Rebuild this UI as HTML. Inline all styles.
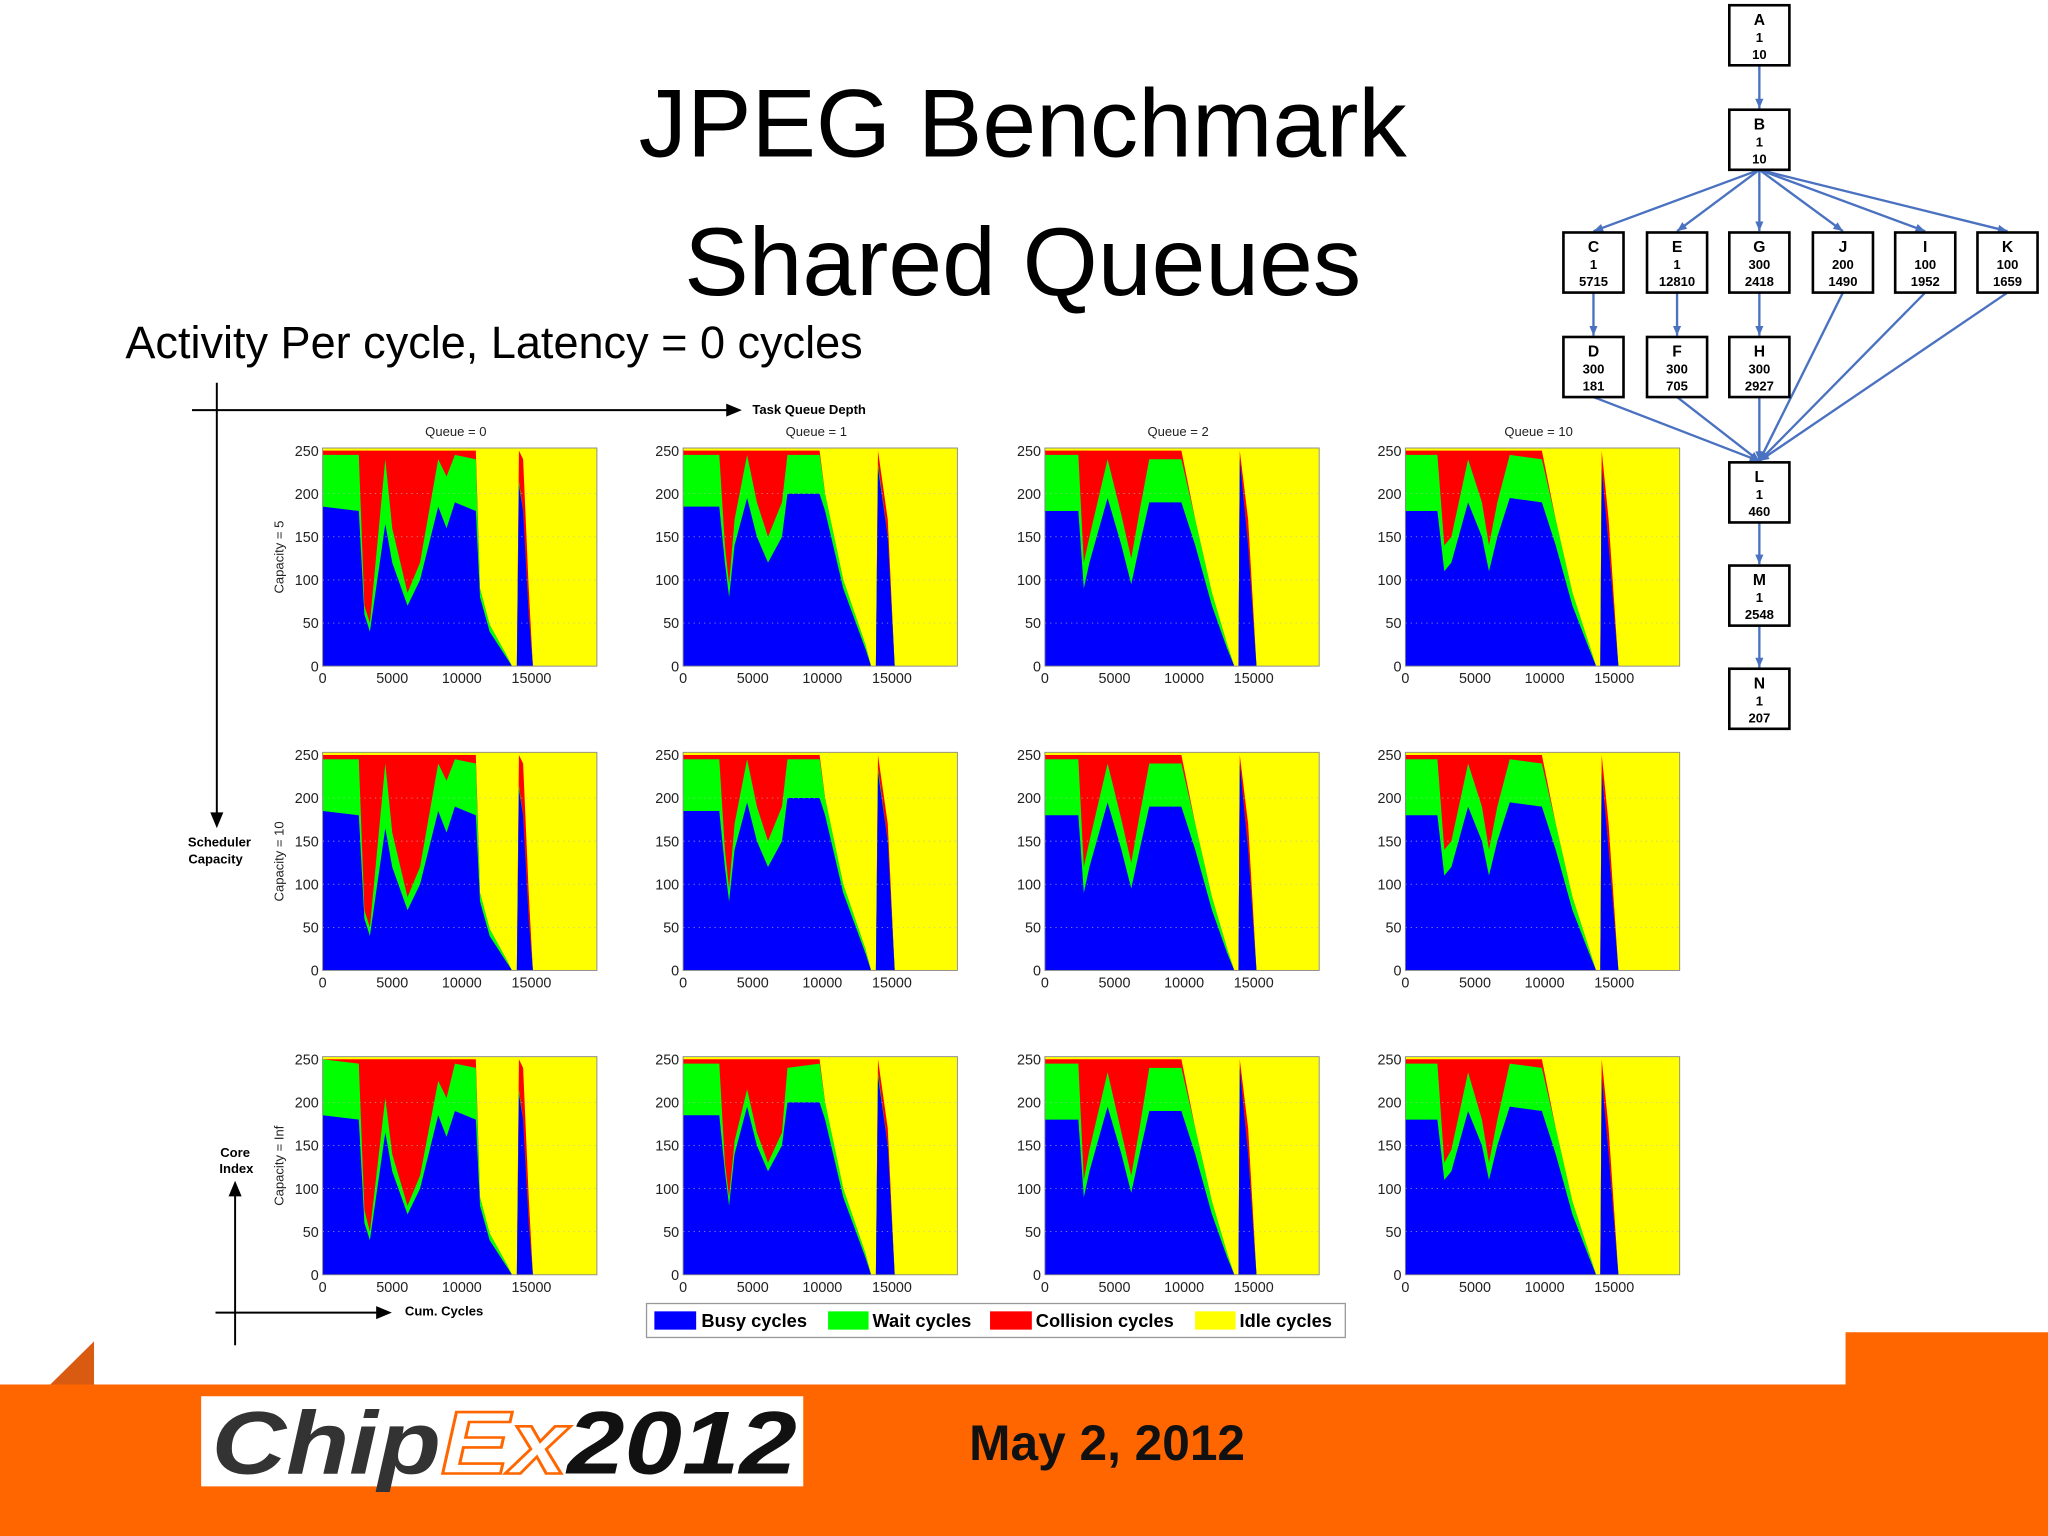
<!DOCTYPE html>
<html><head><meta charset="utf-8"><style>
html,body{margin:0;padding:0;background:#fff}
svg{display:block}
text{font-family:"Liberation Sans",sans-serif}
</style></head><body>
<svg id="root" xmlns="http://www.w3.org/2000/svg" width="2048" height="1536" viewBox="0 0 1568 1176">
<rect x="0" y="0" width="1568" height="1176" fill="#fff"/>
<rect x="0" y="1060" width="1568" height="116" fill="#FF6600"/>
<rect x="1413" y="1020" width="155" height="42" fill="#FF6600"/>
<polygon points="0,1098 72,1027 72,1062 0,1100" fill="#D95B12"/>
<polygon points="0,1100 72,1062 72,1060 0,1060" fill="#FF6600"/>
<rect x="154" y="1069" width="461" height="69" fill="#fff"/>
<text x="162" y="1128" font-size="68" font-weight="bold" font-style="italic" textLength="448" lengthAdjust="spacingAndGlyphs"><tspan fill="#333">Chip</tspan><tspan fill="#fff" stroke="#FF6600" stroke-width="2">Ex</tspan><tspan fill="#111">2012</tspan></text>
<text x="742" y="1118" font-size="38" font-weight="bold" fill="#111">May 2, 2012</text>
<text x="783" y="120" font-size="74" text-anchor="middle" fill="#000">JPEG Benchmark</text>
<text x="783" y="226" font-size="74" text-anchor="middle" fill="#000">Shared Queues</text>
<text x="96" y="274" font-size="34.5" fill="#000">Activity Per cycle, Latency = 0 cycles</text>
<g id="charts"></g>
<g id="dag"></g>
<g stroke="#000" stroke-width="1.5" fill="none">
<line x1="147" y1="314" x2="560" y2="314"/><line x1="166" y1="293" x2="166" y2="626"/>
<line x1="180" y1="1030" x2="180" y2="912"/><line x1="165" y1="1005" x2="292" y2="1005"/>
</g>
<polygon points="568,314 556,309 556,319" fill="#000"/>
<polygon points="166,634 161,622 171,622" fill="#000"/>
<polygon points="180,904 175,916 185,916" fill="#000"/>
<polygon points="300,1005 288,1000 288,1010" fill="#000"/>
<text x="576" y="317" font-size="10" font-weight="bold">Task Queue Depth</text>
<text x="168" y="648" font-size="10" font-weight="bold" text-anchor="middle">Scheduler</text>
<text x="165" y="661" font-size="10" font-weight="bold" text-anchor="middle">Capacity</text>
<text x="180" y="886" font-size="10" font-weight="bold" text-anchor="middle">Core</text>
<text x="181" y="898" font-size="10" font-weight="bold" text-anchor="middle">Index</text>
<text x="310" y="1007" font-size="10" font-weight="bold">Cum. Cycles</text>
<g>
<rect x="495" y="998" width="535" height="26" fill="#fff" stroke="#999" stroke-width="1"/>
<rect x="501" y="1004" width="32" height="14" fill="#0000FF"/>
<text x="537" y="1016" font-size="14" font-weight="bold">Busy cycles</text>
<rect x="634" y="1004" width="31" height="14" fill="#00FF00"/>
<text x="668" y="1016" font-size="14" font-weight="bold">Wait cycles</text>
<rect x="758" y="1004" width="32" height="14" fill="#FF0000"/>
<text x="793" y="1016" font-size="14" font-weight="bold">Collision cycles</text>
<rect x="915" y="1004" width="31" height="14" fill="#FFFF00"/>
<text x="949" y="1016" font-size="14" font-weight="bold">Idle cycles</text>
</g>
</svg>
<script>
var NS="http://www.w3.org/2000/svg";
var queueLabels=["Queue = 0","Queue = 1","Queue = 2","Queue = 10"];
var capacityLabels=["Capacity = 5","Capacity = 10","Capacity = Inf"];
var xTicks=[0,5000,10000,15000];
var yTicks=[0,50,100,150,200,250];
var c1Cycles=[0,2600,3000,3400,4500,5000,6100,7000,8300,8900,9500,11000,11300,12000,13200,13600,13950,14100,14400,14800,15100,19700];
var c1Busy=[185,180,60,40,165,120,70,100,185,160,190,180,80,40,10,0,0,210,180,60,0,0];
var c1Wait=[60,65,10,10,75,40,15,20,55,60,55,60,10,8,3,0,0,5,0,0,0,0];
var c1Coll=[5,5,180,200,10,90,165,130,10,30,5,10,0,0,0,0,0,35,60,30,0,0];
var c1WaitR3=[65,65,15,10,40,20,10,15,40,45,55,60,10,8,3,0,0,5,0,0,0,0];
var c1CollR3=[0,5,175,200,45,110,170,135,25,45,5,10,0,0,0,0,0,35,60,30,0,0];
var c2Cycles=[0,2600,3000,3300,3700,4600,5300,6100,7100,7500,9800,10200,11500,13100,13500,13850,14000,14700,15200,19700];
var c2Busy=[185,185,120,80,140,195,150,120,150,200,200,180,90,20,0,0,230,150,0,0];
var c2Wait=[60,60,20,15,30,50,40,30,40,45,45,20,10,5,0,0,5,0,0,0];
var c2Coll=[5,5,110,155,80,5,60,100,60,5,5,0,0,0,0,0,15,20,0,0];
var c2WaitR3=[60,60,10,10,15,20,15,10,15,40,45,20,10,5,0,0,5,0,0,0];
var c2CollR3=[5,5,120,160,95,35,85,120,85,10,5,0,0,0,0,0,15,20,0,0];
var c3Cycles=[0,2400,2800,3200,4500,5500,6200,6800,7500,9800,10800,12000,13100,13600,13900,14000,14600,15200,19700];
var c3Busy=[180,180,90,120,195,140,95,140,190,190,140,70,20,0,0,240,140,0,0];
var c3Wait=[65,65,30,30,45,35,30,40,50,50,30,15,5,0,0,0,0,0,0];
var c3Coll=[5,5,130,100,10,75,125,70,10,10,0,0,0,0,0,10,30,0,0];
var c3WaitR3=[65,65,20,25,40,25,20,30,50,50,30,15,5,0,0,0,0,0,0];
var c3CollR3=[5,5,140,105,15,85,135,80,10,10,0,0,0,0,0,10,30,0,0];
var c4Cycles=[0,2300,2800,3300,4500,5500,6000,6600,7500,9800,10800,12000,13200,13700,14000,14100,14600,15300,19700];
var c4Busy=[180,180,110,120,190,150,110,150,195,190,140,70,20,0,0,230,140,0,0];
var c4Wait=[65,65,30,30,50,40,30,40,50,50,30,15,5,0,0,0,0,0,0];
var c4Coll=[5,5,110,100,10,60,110,60,5,10,0,0,0,0,0,20,30,0,0];
var c4WaitR3=[65,65,20,25,45,30,20,30,50,50,30,15,5,0,0,0,0,0,0];
var c4CollR3=[5,5,120,105,15,70,120,70,5,10,0,0,0,0,0,20,30,0,0];
var colData=[
 {cyc:c1Cycles,busy:c1Busy,wait:c1Wait,coll:c1Coll,wait3:c1WaitR3,coll3:c1CollR3},
 {cyc:c2Cycles,busy:c2Busy,wait:c2Wait,coll:c2Coll,wait3:c2WaitR3,coll3:c2CollR3},
 {cyc:c3Cycles,busy:c3Busy,wait:c3Wait,coll:c3Coll,wait3:c3WaitR3,coll3:c3CollR3},
 {cyc:c4Cycles,busy:c4Busy,wait:c4Wait,coll:c4Coll,wait3:c4WaitR3,coll3:c4CollR3}];
var X0=[247,523,800,1076], Y0=[343,576,809], PW=210, PH=167, XMAX=19700, YMAX=253;
function mk(tag,attrs,parent){var e=document.createElementNS(NS,tag);for(var k in attrs)e.setAttribute(k,attrs[k]);parent.appendChild(e);return e;}
var charts=document.getElementById('charts');
for(var r=0;r<3;r++)for(var c=0;c<4;c++){
 var x0=X0[c],y0=Y0[r];
 var sx=function(v){return x0+v/XMAX*PW;};
 var sy=function(v){return y0+PH-v/YMAX*PH;};
 var g=mk('g',{},charts);
 
 
 var bg=mk('rect',{x:x0,y:y0,width:PW,height:PH,fill:'#FFFF00'},g);
 
 
 var d=colData[c];
 var wait=r==2?d.wait3:d.wait, coll=r==2?d.coll3:d.coll;
 var layers=[['collision-area','#FF0000',function(i){return d.busy[i]+wait[i]+coll[i];}],
  ['wait-area','#00FF00',function(i){return d.busy[i]+wait[i];}],
  ['busy-area','#0000FF',function(i){return d.busy[i];}]];
 layers.forEach(function(L){
  var pts=[sx(0)+','+sy(0)];
  for(var i=0;i<d.cyc.length;i++)pts.push(sx(d.cyc[i]).toFixed(1)+','+sy(Math.min(YMAX,L[2](i))).toFixed(1));
  pts.push(sx(XMAX)+','+sy(0));
  var p=mk('polygon',{points:pts.join(' '),fill:L[1]},g);
  
  
 });
 yTicks.forEach(function(t){
  var tl=mk('text',{x:x0-3,y:sy(t)+4,'font-size':11,'text-anchor':'end',fill:'#222'},g);
  
  
  tl.textContent=t;
  if(t>0&&t<250){var gl=mk('line',{x1:x0,x2:x0+PW,y1:sy(t),y2:sy(t),stroke:'#bbb','stroke-width':0.5,'stroke-dasharray':'1,3'},g);
  
  }
 });
 xTicks.forEach(function(t){
  var tl=mk('text',{x:sx(t),y:y0+PH+13,'font-size':11,'text-anchor':'middle',fill:'#222'},g);
  
  
  tl.textContent=t;
 });
 var fr=mk('rect',{x:x0,y:y0,width:PW,height:PH,fill:'none',stroke:'#888','stroke-width':0.7},g);
 
 
 if(r==0){var qt=mk('text',{x:x0+PW/2-3,y:y0-9,'font-size':10,'text-anchor':'middle',fill:'#222'},g);
  
  
  qt.textContent=queueLabels[c];}
 if(c==0){var yl=mk('text',{x:0,y:0,'font-size':10,'text-anchor':'middle',fill:'#222',transform:'translate(217,'+(y0+PH/2)+') rotate(-90)'},g);
  
  
  yl.textContent=capacityLabels[r];}
}
var dag=document.getElementById('dag');
var nodes=[["A","1","10",1347,27],["B","1","10",1347,107],["C","1","5715",1220,201],["E","1","12810",1284,201],["G","300","2418",1347,201],["J","200","1490",1411,201],["I","100","1952",1474,201],["K","100","1659",1537,201],["D","300","181",1220,281],["F","300","705",1284,281],["H","300","2927",1347,281],["L","1","460",1347,377],["M","1","2548",1347,456],["N","1","207",1347,535]];
var edges=[["A","B"],["B","C"],["B","E"],["B","G"],["B","J"],["B","I"],["B","K"],["C","D"],["E","F"],["G","H"],["D","L"],["F","L"],["H","L"],["J","L"],["I","L"],["K","L"],["L","M"],["M","N"]];
var pos={};nodes.forEach(function(n){pos[n[0]]=[n[3],n[4]];});
edges.forEach(function(e){
 var a=pos[e[0]],b=pos[e[1]];
 var x1=a[0],y1=a[1]+23,x2=b[0],y2=b[1]-24;
 var ln=mk('line',{x1:x1,y1:y1,x2:x2,y2:y2,stroke:'#4A72C0','stroke-width':1.8},dag);
 
 
 var ang=Math.atan2(y2-y1,x2-x1),s=8;
 var p1=[x2-s*Math.cos(ang-0.4),y2-s*Math.sin(ang-0.4)],p2=[x2-s*Math.cos(ang+0.4),y2-s*Math.sin(ang+0.4)];
 var ah=mk('polygon',{points:x2+','+y2+' '+p1.join(',')+' '+p2.join(','),fill:'#4A72C0'},dag);
 
 
});
nodes.forEach(function(n){
 var g=mk('g',{},dag);
 
 
 mk('rect',{x:n[3]-23,y:n[4]-23,width:46,height:46,fill:'#fff',stroke:'#000','stroke-width':2},g);
 [n[0],n[1],n[2]].forEach(function(t,i){
  var tx=mk('text',{x:n[3],y:n[4]-8+i*13,'font-size':i==0?12:10,'font-weight':'bold','text-anchor':'middle'},g);
  
  
  tx.textContent=t;
 });
});
</script>
</body></html>
